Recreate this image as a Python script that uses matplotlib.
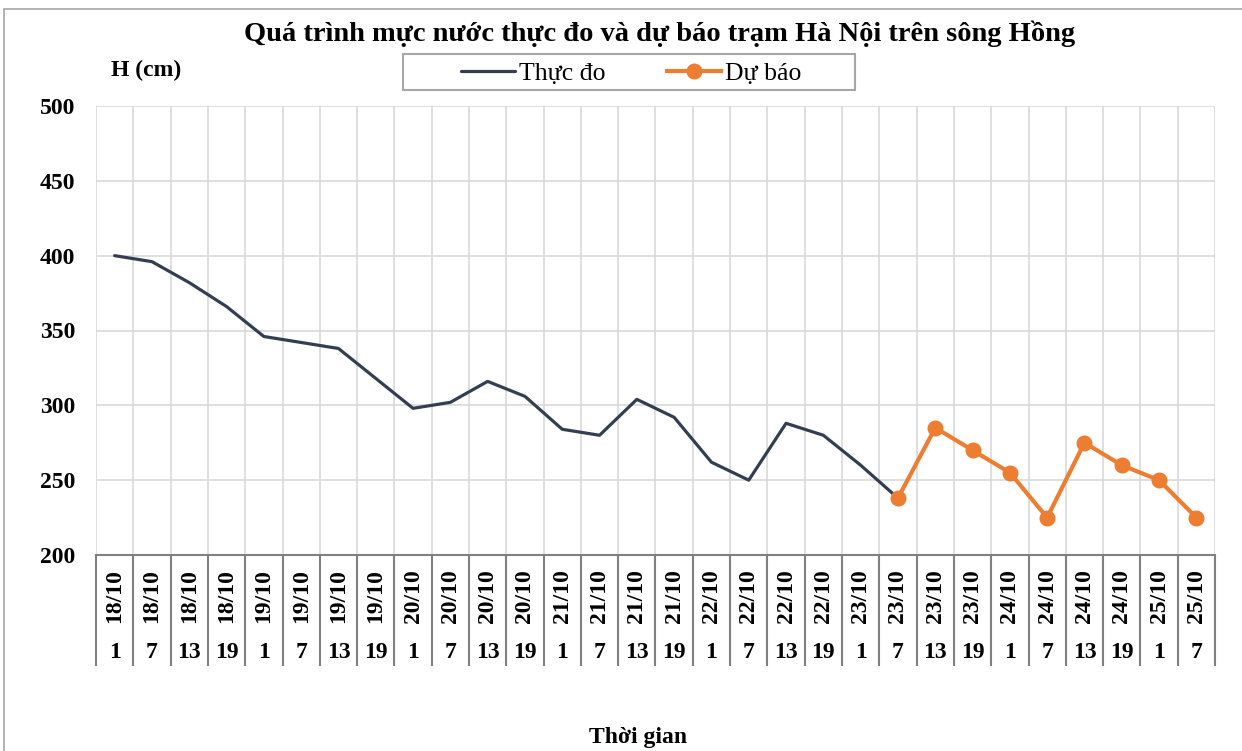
import numpy as np
import matplotlib
matplotlib.use('Agg')
import matplotlib.pyplot as plt
from matplotlib.patches import Rectangle

plt.rcParams['font.family'] = ['Liberation Serif', 'DejaVu Serif']

# categories: day / hour
days = ['18/10'] * 4 + ['19/10'] * 4 + ['20/10'] * 4 + ['21/10'] * 4 + \
       ['22/10'] * 4 + ['23/10'] * 4 + ['24/10'] * 4 + ['25/10'] * 2
hours = ['1', '7', '13', '19'] * 7 + ['1', '7']

# observed levels (18/10 1h -> 23/10 7h)
observed = [400, 396, 382, 366, 346, 342, 338, 318, 298, 302, 316, 306,
            284, 280, 304, 292, 262, 250, 288, 280, 260, 238]
# forecast levels (23/10 7h -> 25/10 7h)
forecast = [238, 285, 270, 255, 225, 275, 260, 250, 225]

yticks = [200, 250, 300, 350, 400, 450, 500]

W, H = 1242, 751
fig = plt.figure(figsize=(W / 100, H / 100), dpi=100)
ax = fig.add_axes([96 / W, 1 - 555 / H, (1215 - 96) / W, (555 - 106) / H])

n = len(days)
x_obs = np.arange(len(observed))
x_fc = np.arange(len(observed) - 1, len(observed) - 1 + len(forecast))

ax.plot(x_obs, observed, color='#333F50', lw=2.3, solid_capstyle='round',
        label='Thực đo', zorder=3)
ax.plot(x_fc, forecast, color='#ED7D31', lw=3, marker='o', ms=10.5,
        label='Dự báo', zorder=4)

ax.set_xlim(-0.5, n - 0.5)
ax.set_ylim(200, 500)
ax.set_yticks(yticks)
ax.set_yticklabels([str(v) for v in yticks], fontsize=17, fontweight='bold')
ax.tick_params(axis='y', length=0, pad=15)
ax.set_xticks([])
ax.set_xticks(np.arange(-0.5, n, 1), minor=True)
ax.tick_params(axis='x', which='minor', length=0)
ax.grid(True, axis='y', color='#D9D9D9', lw=1.2)
ax.grid(True, axis='x', which='minor', color='#D9D9D9', lw=1.2)
ax.set_axisbelow(True)
for s in ['top', 'right', 'left']:
    ax.spines[s].set_visible(False)
ax.spines['bottom'].set_color('#808080')
ax.spines['bottom'].set_linewidth(1.5)

# category table under the axis
tr = ax.get_xaxis_transform()
ax.vlines(np.arange(-0.5, n, 1), -0.247, 0, transform=tr, color='#808080',
          lw=1.5, clip_on=False)
for i in range(n):
    ax.text(i, -0.092, days[i], transform=tr, rotation=90, ha='center',
            va='center', fontsize=17, fontweight='bold')
    ax.text(i, -0.218, hours[i], transform=tr, ha='center', va='center',
            fontsize=17, fontweight='bold')

fig.text(660 / W, 1 - 34 / H,
         'Quá trình mực nước thực đo và dự báo trạm Hà Nội trên sông Hồng',
         ha='center', va='center', fontsize=20.5, fontweight='bold')
fig.text(146 / W, 1 - 70 / H, 'H (cm)', ha='center', va='center',
         fontsize=17, fontweight='bold')
fig.text(638 / W, 1 - 737 / H, 'Thời gian', ha='center', va='center',
         fontsize=17, fontweight='bold')

leg = fig.legend(loc='center', bbox_to_anchor=(631 / W, 1 - 74 / H), ncol=2,
                 fontsize=18.5, frameon=False, handlelength=2.1,
                 handletextpad=0.15, columnspacing=2.4)

# legend frame
fig.patches.append(Rectangle((403 / W, 1 - 90 / H), (855 - 403) / W, 36 / H,
                             transform=fig.transFigure, fill=False,
                             edgecolor='#A6A6A6', lw=1.5))
# chart area border
fig.patches.append(Rectangle((4 / W, -0.1), 1.5, 1 - 9 / H + 0.1,
                             transform=fig.transFigure, fill=False,
                             edgecolor='#A6A6A6', lw=1.2))

fig.savefig('out.png', dpi=100)
